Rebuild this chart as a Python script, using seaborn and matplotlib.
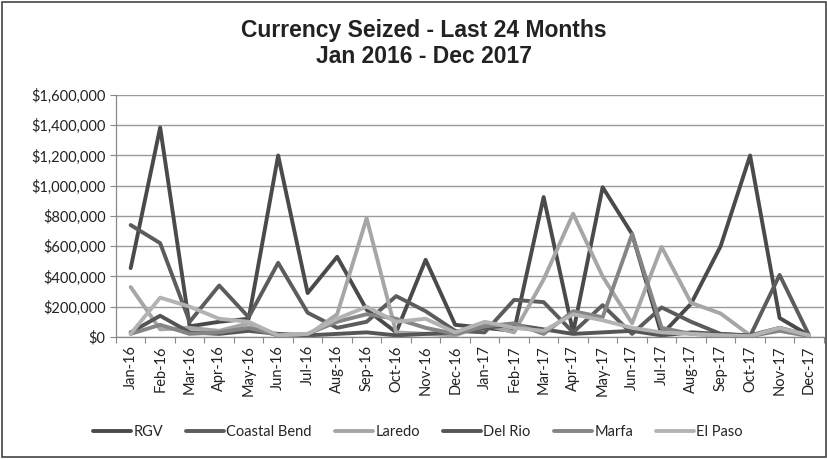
import numpy as np
import pandas as pd
import matplotlib
matplotlib.use("Agg")
import matplotlib.pyplot as plt
import seaborn as sns
from matplotlib.patches import Rectangle
from matplotlib.ticker import FuncFormatter, FixedLocator

# Monthly currency seizures by station (USD)
months = ["Jan-16", "Feb-16", "Mar-16", "Apr-16", "May-16", "Jun-16",
          "Jul-16", "Aug-16", "Sep-16", "Oct-16", "Nov-16", "Dec-16",
          "Jan-17", "Feb-17", "Mar-17", "Apr-17", "May-17", "Jun-17",
          "Jul-17", "Aug-17", "Sep-17", "Oct-17", "Nov-17", "Dec-17"]

rgv = [455000, 1385000, 70000, 100000, 120000, 1200000, 290000, 530000,
       180000, 30000, 510000, 80000, 60000, 40000, 925000, 30000,
       990000, 680000, 15000, 220000, 600000, 1200000, 125000, 10000]
coastal_bend = [740000, 620000, 100000, 340000, 130000, 490000, 160000, 60000,
                100000, 270000, 170000, 40000, 30000, 245000, 230000, 30000,
                210000, 20000, 195000, 100000, 20000, 5000, 410000, 10000]
laredo = [330000, 50000, 60000, 40000, 90000, 10000, 10000, 150000,
          785000, 30000, 20000, 10000, 80000, 30000, 380000, 815000,
          400000, 90000, 595000, 225000, 155000, 10000, 50000, 10000]
del_rio = [30000, 140000, 30000, 20000, 40000, 20000, 10000, 20000,
           30000, 10000, 20000, 30000, 60000, 80000, 50000, 20000,
           30000, 40000, 10000, 30000, 20000, 10000, 60000, 10000]
marfa = [20000, 80000, 20000, 30000, 60000, 10000, 20000, 100000,
         150000, 120000, 60000, 20000, 70000, 90000, 20000, 170000,
         130000, 680000, 60000, 20000, 10000, 5000, 40000, 5000]
el_paso = [20000, 260000, 200000, 120000, 100000, 10000, 20000, 120000,
           200000, 100000, 120000, 30000, 100000, 60000, 40000, 150000,
           110000, 60000, 30000, 20000, 10000, 5000, 60000, 10000]

stations = ["RGV", "Coastal Bend", "Laredo", "Del Rio", "Marfa", "El Paso"]
series = [rgv, coastal_bend, laredo, del_rio, marfa, el_paso]
shades = ["#4a4a4a", "#5c5c5c", "#a6a6a6", "#555555", "#858585", "#b3b3b3"]

rows = []
for name, vals in zip(stations, series):
    for i, v in enumerate(vals):
        rows.append({"month": i, "station": name, "amount": v})
df = pd.DataFrame(rows)

sns.set_theme(style="white")
plt.rcParams["font.family"] = ["Lato", "DejaVu Sans"]

fig = plt.figure(figsize=(8.28, 4.59), dpi=100)
ax = fig.add_axes([0.140, 0.266, 0.855, 0.527])

sns.lineplot(data=df, x="month", y="amount", hue="station",
             hue_order=stations, palette=dict(zip(stations, shades)),
             linewidth=2.8, sort=False, ax=ax, legend=True)

ax.set_xlim(-0.5, len(months) - 0.5)
ax.set_ylim(0, 1600000)
ax.yaxis.set_major_locator(FixedLocator(np.arange(0, 1600001, 200000)))
ax.yaxis.set_major_formatter(FuncFormatter(lambda v, p: "${:,.0f}".format(v)))
ax.grid(axis="y", color="#9a9a9a", linewidth=1.0)
ax.set_axisbelow(True)

ax.set_xticks(range(len(months)))
ax.set_xticklabels(months, rotation=90, fontsize=10.5, color="#222222")
ax.set_xticks(np.arange(-0.5, len(months), 1.0), minor=True)
ax.tick_params(axis="x", which="major", length=0, pad=6)
ax.tick_params(axis="x", which="minor", length=4, width=0.8, color="#888888",
               direction="out", bottom=True)
ax.tick_params(axis="y", which="major", length=4, width=0.8, color="#888888",
               direction="out", left=True, labelsize=10.5, labelcolor="#222222")

for side in ["top", "right"]:
    ax.spines[side].set_visible(False)
for side in ["left", "bottom"]:
    ax.spines[side].set_color("#888888")
    ax.spines[side].set_linewidth(0.9)

ax.set_xlabel("")
ax.set_ylabel("")

handles, labels = ax.get_legend_handles_labels()
ax.legend_.remove()
fig.legend(handles, labels, loc="center", bbox_to_anchor=(0.505, 0.058),
           ncol=6, frameon=False, fontsize=10.5, handlelength=2.6,
           handletextpad=0.15, columnspacing=1.6)

fig.text(0.512, 0.905, "Currency Seized - Last 24 Months\nJan 2016 - Dec 2017",
         ha="center", va="center", fontsize=16.5, fontweight="bold",
         family=["Liberation Sans", "DejaVu Sans"], color="#222222",
         linespacing=1.15)

fig.patches.append(Rectangle((0.003, 0.004), 0.994, 0.992,
                             transform=fig.transFigure, fill=False,
                             edgecolor="#444444", linewidth=1.2))

fig.savefig("out.png", dpi=100)
